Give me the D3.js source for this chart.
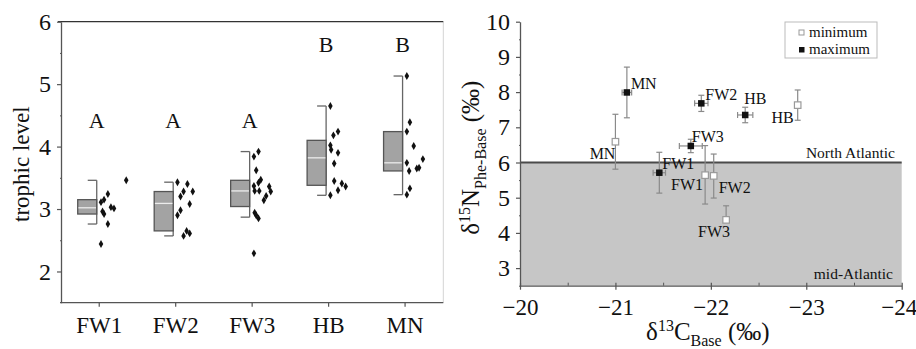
<!DOCTYPE html>
<html>
<head>
<meta charset="utf-8">
<script src="https://cdn.jsdelivr.net/npm/d3@7"></script>
<style>
  body { margin: 0; background: #fff; }
  svg text { font-family: "Liberation Serif", Tinos, "Times New Roman", "DejaVu Serif", serif; fill: #111; }
</style>
</head>
<body>
<svg id="chart" width="916" height="349" font-family="Liberation Serif"></svg>
<script>
// ---- left panel: trophic level per group ----
const groups = ['FW1', 'FW2', 'FW3', 'HB', 'MN'];
const boxLow = [2.76, 2.57, 2.87, 3.22, 3.23];
const boxQ1 = [2.92, 2.65, 3.04, 3.38, 3.61];
const boxMedian = [3.02, 3.09, 3.29, 3.82, 3.74];
const boxQ3 = [3.15, 3.28, 3.46, 4.10, 4.24];
const boxHigh = [3.46, 3.43, 3.92, 4.65, 5.13];
const letters = ['A', 'A', 'A', 'B', 'B'];
const letterLevel = [4.3, 4.3, 4.3, 5.52, 5.52];

const dotValues = [
  [3.46, 3.24, 3.15, 3.11, 2.96, 2.92, 3.03, 3.01, 2.76, 2.44],
  [3.43, 3.40, 3.28, 3.28, 3.20, 3.08, 2.98, 2.90, 2.65, 2.61, 2.57],
  [3.92, 3.84, 3.62, 3.47, 3.42, 3.37, 3.36, 3.29, 3.29, 3.28, 3.21, 3.14, 2.94, 2.90, 2.85, 2.29],
  [4.65, 4.24, 4.18, 4.02, 3.95, 3.90, 3.73, 3.45, 3.41, 3.36, 3.30, 3.22],
  [5.13, 4.39, 4.24, 4.01, 3.74, 3.61, 3.65, 3.66, 3.80, 3.33, 3.23]
];
// horizontal jitter of the dots, as a share of the category step
const dotJitter = [
  [0.34, 0.10, 0.05, 0.01, 0.03, 0.05, 0.14, 0.18, 0.10, 0.01],
  [0.01, 0.14, 0.09, 0.21, 0.05, 0.17, 0.05, 0.01, 0.13, 0.17, 0.09],
  [0.07, 0.01, 0.04, 0.10, 0.07, 0.01, 0.21, 0.02, 0.08, 0.23, 0.17, 0.14, 0.02, 0.04, 0.07, 0.01],
  [0.01, 0.11, 0.05, 0.01, 0.02, 0.11, 0.06, 0.06, 0.16, 0.21, 0.11, 0.01],
  [0.01, 0.05, 0.01, 0.10, 0.01, 0.04, 0.14, 0.17, 0.22, 0.05, 0.01]
];

// ---- right panel: d13C vs d15N ----
const sites = ['FW1', 'FW2', 'FW3', 'HB', 'MN'];
const minC = [-21.94, -22.03, -22.16, -22.91, -21.00];
const minN = [5.64, 5.62, 4.37, 7.63, 6.59];
const minNErrLo = [0.82, 0.63, 0.0, 0.43, 0.78];
const minNErrHi = [0.84, 0.62, 0.40, 0.43, 0.78];
const maxC = [-21.46, -21.90, -21.79, -22.36, -21.12];
const maxN = [5.71, 7.68, 6.47, 7.35, 7.99];
const maxCErr = [0.065, 0.07, 0.12, 0.08, 0.05];
const maxNErr = [0.58, 0.23, 0.19, 0.22, 0.72];
const boundaryN = 6;
const xTicks = [-20, -21, -22, -23, -24];
const yTicks = [3, 4, 5, 6, 7, 8, 9, 10];

const serif = '"Liberation Serif", Tinos, "Times New Roman", "DejaVu Serif", serif';
const svg = d3.select('#chart');

function styleAxis(g, size) {
  g.attr('font-family', null);
  g.select('.domain').attr('stroke', '#555').attr('stroke-width', 1.3);
  g.selectAll('.tick line').attr('stroke', '#555').attr('stroke-width', 1.2);
  g.selectAll('.tick text')
    .attr('fill', '#111')
    .style('font-family', serif)
    .style('font-size', size + 'px');
}

// ================= left panel =================
(function() {
  const xL = d3.scaleBand().domain(groups).range([61, 443.3]);
  const yL = d3.scaleLinear().domain([1.5, 6]).range([302.7, 21.7]);
  const center = g => xL(g) + xL.bandwidth() / 2;
  const el = svg.append('g');

  // frame
  el.append('line')
    .attr('x1', 443.3).attr('x2', 443.3)
    .attr('y1', yL(6)).attr('y2', yL(1.5))
    .attr('stroke', '#d4d4d4');
  el.append('line')
    .attr('x1', 58).attr('x2', 443.3)
    .attr('y1', yL(6)).attr('y2', yL(6))
    .attr('stroke', '#333').attr('stroke-width', 1.3);

  const yAxis = el.append('g')
    .attr('transform', 'translate(61,0)')
    .call(d3.axisLeft(yL).tickValues([2, 3, 4, 5, 6]).tickSize(4).tickSizeOuter(0).tickPadding(6).tickFormat(d3.format('d')));
  styleAxis(yAxis, 24);
  const yMinor = el.append('g')
    .attr('transform', 'translate(61,0)')
    .call(d3.axisLeft(yL).tickValues([2.5, 3.5, 4.5, 5.5]).tickSize(2).tickFormat(''));
  yMinor.select('.domain').remove();
  yMinor.selectAll('line').attr('stroke', '#555').attr('transform', 'translate(1,0)');

  const xAxis = el.append('g')
    .attr('transform', `translate(0,${yL(1.5)})`)
    .call(d3.axisBottom(xL).tickSize(4).tickSizeOuter(0).tickPadding(10));
  styleAxis(xAxis, 23);
  xAxis.select('.domain').attr('d', `M60,0H443.3`);

  el.append('text')
    .attr('transform', `translate(29,${(yL(1.5) + yL(6)) / 2 + 2}) rotate(-90)`)
    .attr('text-anchor', 'middle')
    .style('font-size', '23px')
    .text('trophic level');

  const boxW = 19, gap = 2.5, capW = 9;
  groups.forEach((g, i) => {
    const c = center(g) - gap;
    el.append('line')
      .attr('x1', c).attr('x2', c)
      .attr('y1', yL(boxHigh[i])).attr('y2', yL(boxLow[i]))
      .attr('stroke', '#666').attr('stroke-width', 1.3);
    [boxHigh[i], boxLow[i]].forEach(v => {
      el.append('line')
        .attr('x1', c - capW).attr('x2', c)
        .attr('y1', yL(v)).attr('y2', yL(v))
        .attr('stroke', '#666').attr('stroke-width', 1.3);
    });
    el.append('rect')
      .attr('x', c - boxW).attr('width', boxW)
      .attr('y', yL(boxQ3[i])).attr('height', yL(boxQ1[i]) - yL(boxQ3[i]))
      .attr('fill', '#a3a3a3').attr('stroke', '#555').attr('stroke-width', 1.3);
    el.append('line')
      .attr('x1', c - boxW + 0.7).attr('x2', c - 0.7)
      .attr('y1', yL(boxMedian[i])).attr('y2', yL(boxMedian[i]))
      .attr('stroke', '#ececec').attr('stroke-width', 1.3);

    el.selectAll(null)
      .data(dotValues[i].map((v, j) => ({v, j: dotJitter[i][j]})))
      .enter().append('path')
      .attr('d', d3.symbol(d3.symbolDiamond, 18)())
      .attr('transform', d => `translate(${center(g) + 1 + d.j * xL.step()},${yL(d.v)})`)
      .attr('fill', '#111');

    el.append('text')
      .attr('x', c).attr('y', yL(letterLevel[i]))
      .attr('text-anchor', 'middle')
      .style('font-size', '22px')
      .text(letters[i]);
  });
})();

// ================= right panel =================
(function() {
  const xR = d3.scaleLinear().domain([-20, -24]).range([520, 901.7]);
  const yR = d3.scaleLinear().domain([2.5, 10]).range([285.7, 21.7]);
  const el = svg.append('g');
  const fmt = d => d3.format('d')(d).replace('-', '\u2212');

  el.append('rect')
    .attr('x', xR(-20)).attr('width', xR(-24) - xR(-20))
    .attr('y', yR(boundaryN)).attr('height', yR(2.5) - yR(boundaryN))
    .attr('fill', '#c6c6c6');
  el.append('line')
    .attr('x1', xR(-20)).attr('x2', xR(-24))
    .attr('y1', yR(boundaryN)).attr('y2', yR(boundaryN))
    .attr('stroke', '#4a4a4a').attr('stroke-width', 2);

  el.append('text')
    .attr('x', 895).attr('y', yR(boundaryN) - 5)
    .attr('text-anchor', 'end').style('font-size', '15.5px')
    .text('North Atlantic');
  el.append('text')
    .attr('x', 893).attr('y', yR(2.5) - 7)
    .attr('text-anchor', 'end').style('font-size', '15.5px')
    .text('mid-Atlantic');

  const yAxis = el.append('g')
    .attr('transform', `translate(${xR(-20)},0)`)
    .call(d3.axisLeft(yR).tickValues(yTicks).tickSize(4).tickSizeOuter(0).tickPadding(6).tickFormat(d3.format('d')));
  styleAxis(yAxis, 24);
  const yMinor = el.append('g')
    .attr('transform', `translate(${xR(-20)},0)`)
    .call(d3.axisLeft(yR).tickValues(d3.range(2.5, 10, 1)).tickSize(2).tickFormat(''));
  yMinor.select('.domain').remove();
  yMinor.selectAll('line').attr('stroke', '#555').attr('transform', 'translate(1,0)');

  const xAxis = el.append('g')
    .attr('transform', `translate(0,${yR(2.5)})`)
    .call(d3.axisBottom(xR).tickValues(xTicks).tickSize(4).tickSizeOuter(0).tickPadding(9).tickFormat(fmt));
  styleAxis(xAxis, 23);
  xAxis.selectAll('.tick line').attr('y1', -3);
  // keep the last label inside the page edge
  xAxis.selectAll('.tick text').filter(d => d === -24).attr('dx', -3);
  const xMinor = el.append('g')
    .attr('transform', `translate(0,${yR(2.5)})`)
    .call(d3.axisBottom(xR).tickValues([-20.5, -21.5, -22.5, -23.5]).tickSize(-3).tickFormat(''));
  xMinor.select('.domain').remove();
  xMinor.selectAll('line').attr('stroke', '#555');

  // axis titles
  const yTitle = el.append('text')
    .attr('transform', `translate(479,${(yR(2.5) + yR(10)) / 2 + 4}) rotate(-90)`)
    .attr('text-anchor', 'middle')
    .style('font-size', '25px');
  yTitle.append('tspan').text('δ');
  yTitle.append('tspan').attr('dy', -9).style('font-size', '16px').text('15');
  yTitle.append('tspan').attr('dy', 9).text('N');
  yTitle.append('tspan').attr('dy', 7).style('font-size', '16px').text('Phe-Base');
  yTitle.append('tspan').attr('dy', -7).text(' (‰)');

  const xTitle = el.append('text')
    .attr('x', (xR(-20) + xR(-24)) / 2 - 3).attr('y', 340)
    .attr('text-anchor', 'middle')
    .style('font-size', '25px');
  xTitle.append('tspan').text('δ');
  xTitle.append('tspan').attr('dy', -9).style('font-size', '16px').text('13');
  xTitle.append('tspan').attr('dy', 9).text('C');
  xTitle.append('tspan').attr('dy', 6).style('font-size', '16px').text('Base');
  xTitle.append('tspan').attr('dy', -6).text(' (‰)');

  const errColor = '#8a8a8a';
  const cap = 3;
  function vErr(x, lo, hi) {
    el.append('line').attr('x1', x).attr('x2', x).attr('y1', yR(hi)).attr('y2', yR(lo))
      .attr('stroke', errColor).attr('stroke-width', 1.2);
    el.append('line').attr('x1', x - cap).attr('x2', x + cap).attr('y1', yR(hi)).attr('y2', yR(hi))
      .attr('stroke', errColor).attr('stroke-width', 1.2);
    if (lo !== hi) {
      el.append('line').attr('x1', x - cap).attr('x2', x + cap).attr('y1', yR(lo)).attr('y2', yR(lo))
        .attr('stroke', errColor).attr('stroke-width', 1.2);
    }
  }
  function hErr(y, lo, hi) {
    el.append('line').attr('x1', xR(lo)).attr('x2', xR(hi)).attr('y1', y).attr('y2', y)
      .attr('stroke', errColor).attr('stroke-width', 1.2);
    [lo, hi].forEach(v => {
      el.append('line').attr('x1', xR(v)).attr('x2', xR(v)).attr('y1', y - cap).attr('y2', y + cap)
        .attr('stroke', errColor).attr('stroke-width', 1.2);
    });
  }

  // label placement next to each point: [anchor, dx, dy]
  const maxLabelPos = {FW1: ['start', 3, -4], FW2: ['start', 4, -3], FW3: ['start', 1, -4], HB: ['start', -1, -11], MN: ['start', 4, -3]};
  const minLabelPos = {FW1: ['end', -2, 15], FW2: ['start', 5, 17], FW3: ['middle', -12, 17], HB: ['end', -4, 18], MN: ['end', 0, 17]};
  const sq = 6.5;

  sites.forEach((s, i) => {
    const x = xR(minC[i]), y = yR(minN[i]);
    vErr(x, minN[i] - minNErrLo[i], minN[i] + minNErrHi[i]);
    el.append('rect').attr('x', x - sq / 2).attr('y', y - sq / 2).attr('width', sq).attr('height', sq)
      .attr('fill', '#fff').attr('stroke', '#9a9a9a').attr('stroke-width', 1.2);
    const p = minLabelPos[s];
    el.append('text').attr('x', x + p[1]).attr('y', y + p[2]).attr('text-anchor', p[0])
      .style('font-size', '16px').text(s);
  });
  sites.forEach((s, i) => {
    const x = xR(maxC[i]), y = yR(maxN[i]);
    vErr(x, maxN[i] - maxNErr[i], maxN[i] + maxNErr[i]);
    hErr(y, maxC[i] + maxCErr[i], maxC[i] - maxCErr[i]);
    el.append('rect').attr('x', x - sq / 2).attr('y', y - sq / 2).attr('width', sq).attr('height', sq)
      .attr('fill', '#111');
    const p = maxLabelPos[s];
    el.append('text').attr('x', x + p[1]).attr('y', y + p[2]).attr('text-anchor', p[0])
      .style('font-size', '16px').text(s);
  });

  // legend
  const lg = el.append('g').attr('transform', 'translate(785,22)');
  lg.append('rect').attr('width', 92).attr('height', 36)
    .attr('fill', '#fff').attr('stroke', '#bbb');
  lg.append('rect').attr('x', 14).attr('y', 8).attr('width', 5).attr('height', 5)
    .attr('fill', '#fff').attr('stroke', '#999');
  lg.append('rect').attr('x', 14).attr('y', 25).attr('width', 5.5).attr('height', 5.5)
    .attr('fill', '#111');
  lg.append('text').attr('x', 24).attr('y', 15).style('font-size', '15px').text('minimum');
  lg.append('text').attr('x', 24).attr('y', 32).style('font-size', '15px').text('maximum');
})();
</script>
</body>
</html>
